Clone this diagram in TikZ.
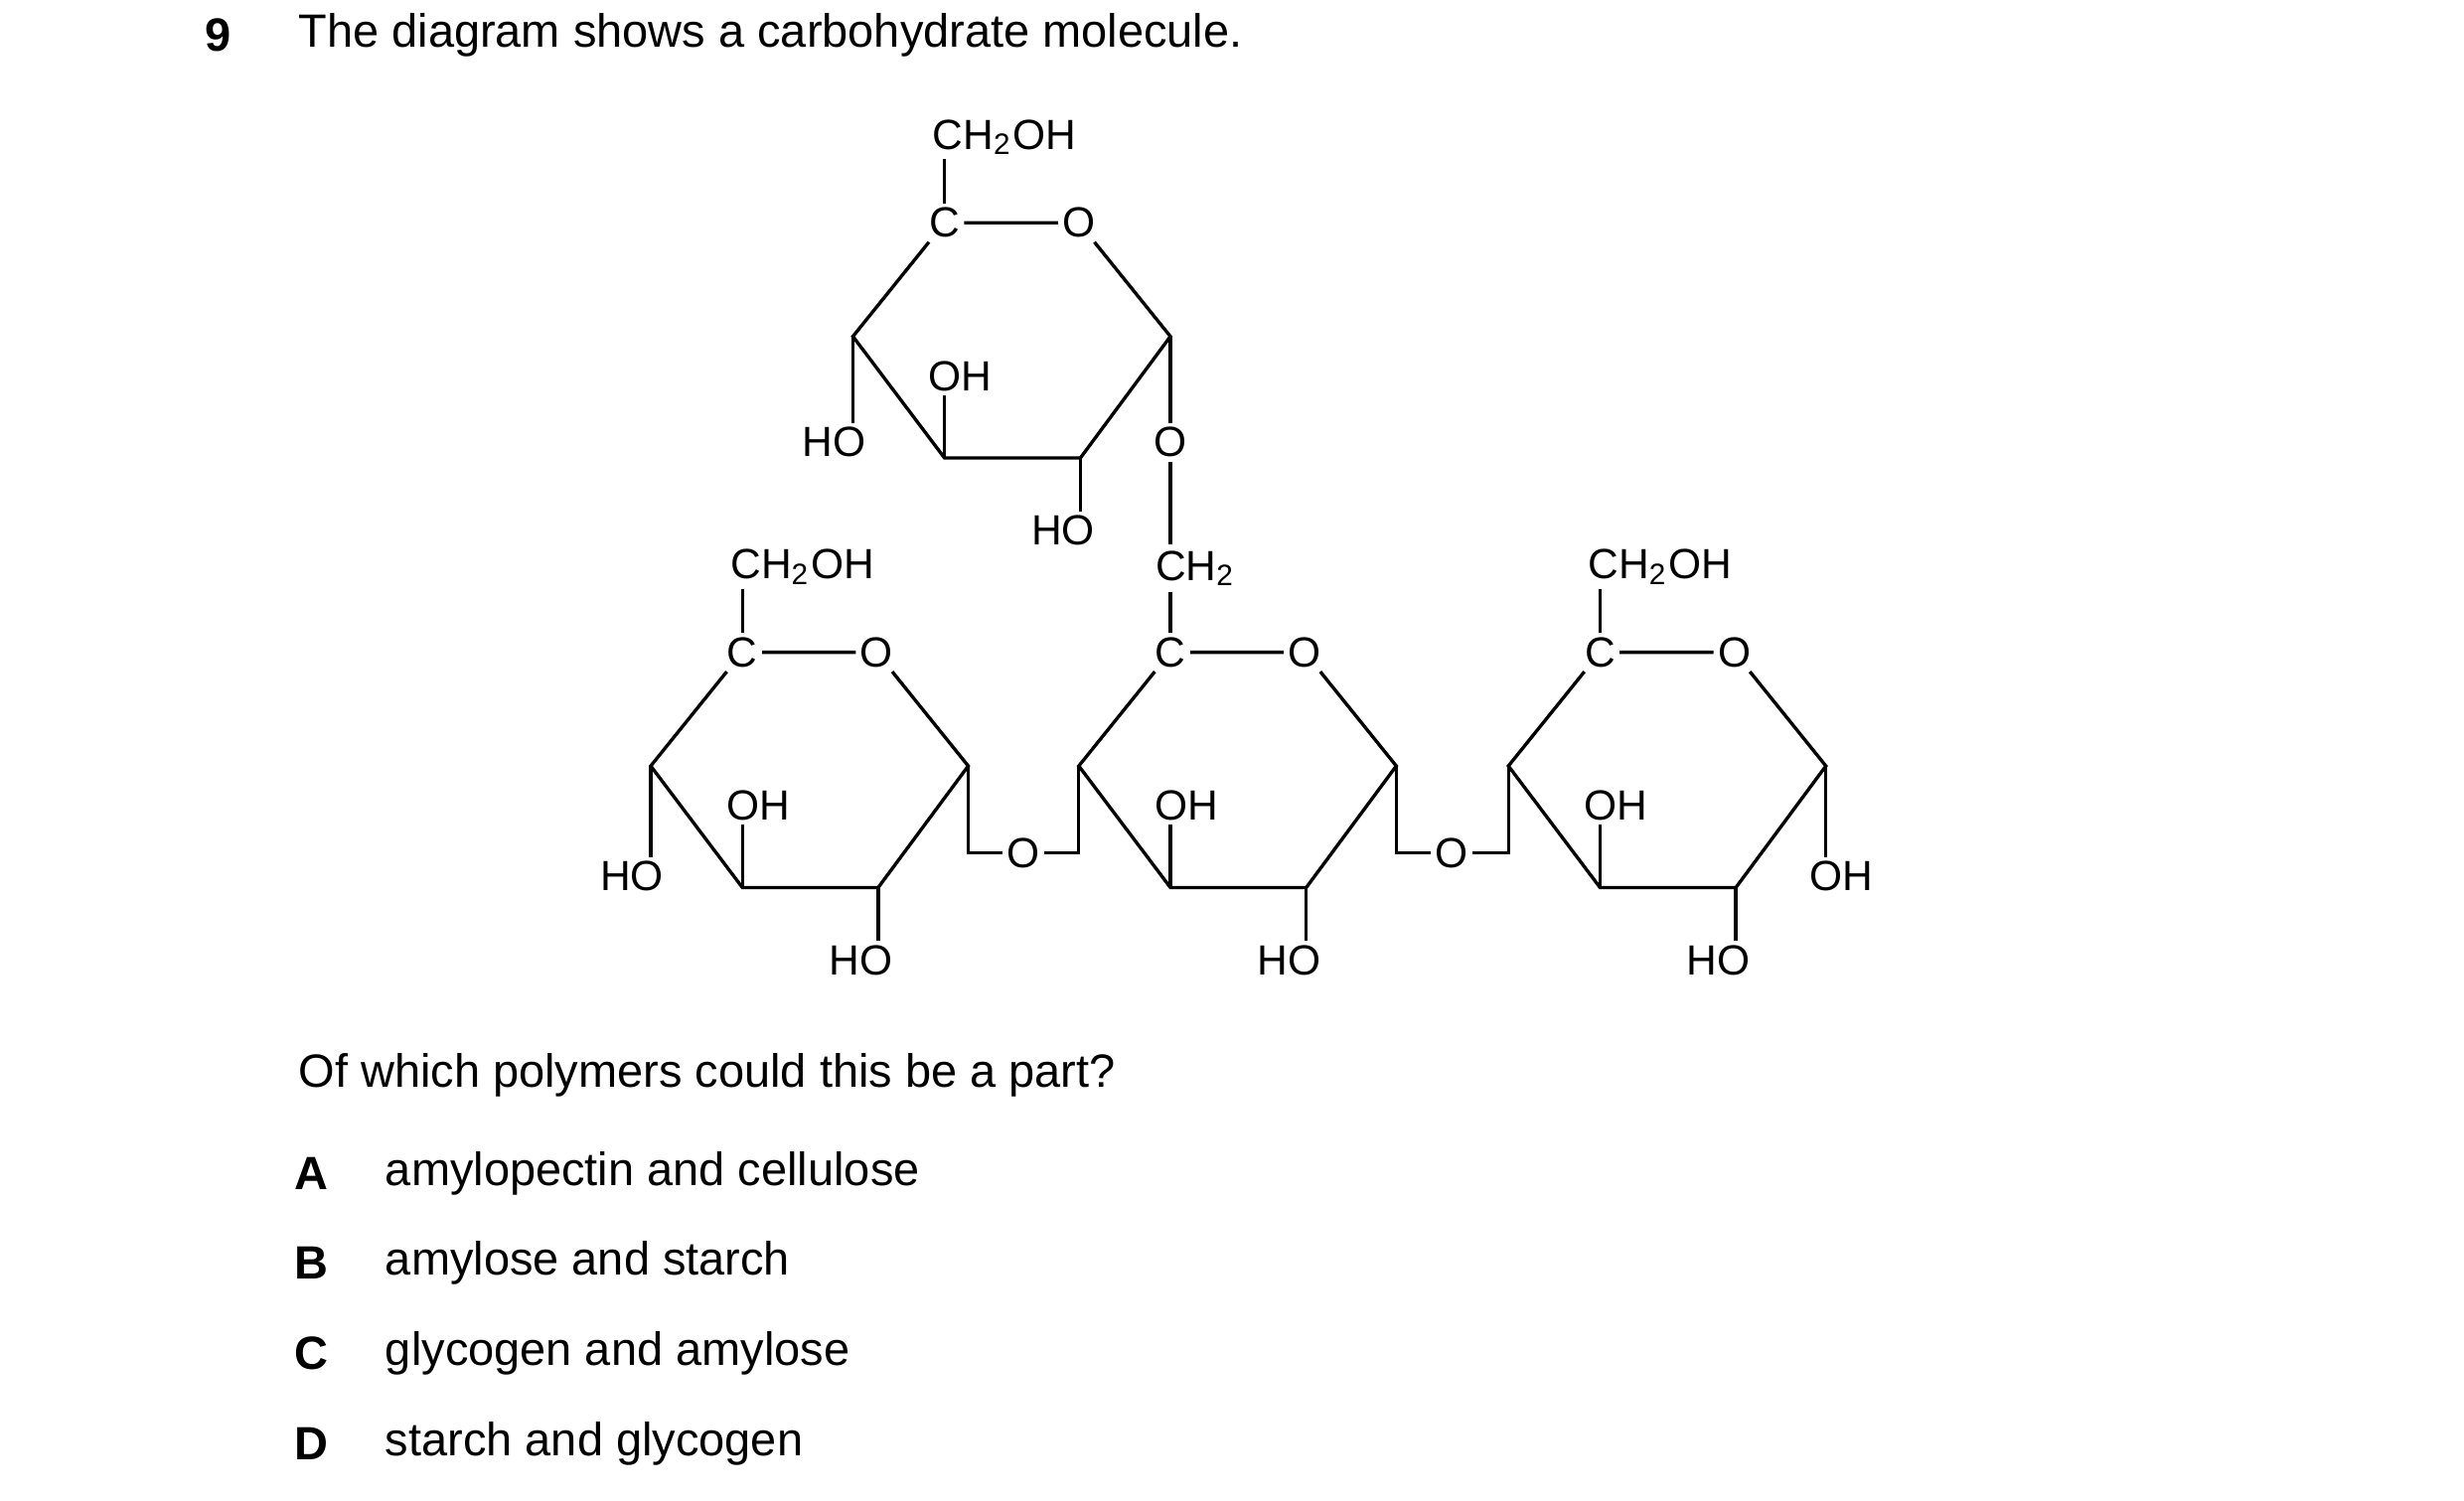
\documentclass[tikz,border=0pt]{standalone}
\usepackage{fontspec}
\setmainfont{Liberation Sans}
\usetikzlibrary{positioning}

\begin{document}
\begin{tikzpicture}[x=0.01cm,y=-0.01cm,line width=0.6pt]
    \tikzstyle{atom}=[inner sep=0.5pt, font=\fontsize{7.6}{9}\selectfont]
    \tikzstyle{grp}=[inner sep=0.5pt, font=\fontsize{7.6}{9}\selectfont]
    \tikzstyle{txt}=[anchor=west, inner sep=0pt, font=\fontsize{8.4}{10}\selectfont]
    \tikzstyle{key}=[inner sep=0pt, font=\fontsize{8.4}{10}\selectfont\bfseries]
    \useasboundingbox (0,0) rectangle (1560,950);

    % question
    \node[key] (num) at (138,22) {9};
    \node[txt] (q1) at (188,22) {The diagram shows a carbohydrate molecule.};

    % rings
    \foreach \r/\x/\y in {t/598/141, l/470/413, m/741/413, r/1013/413} {
      \begin{scope}[shift={(\x,\y)}]
        \node[atom] (\r C) at (0,0) {C};
        \node[atom] (\r O) at (85,0) {O};
        \coordinate (\r 1) at (143,72);
        \coordinate (\r 2) at (86,149);
        \coordinate (\r 3) at (0,149);
        \coordinate (\r 4) at (-58,72);
        \node[grp] (\r OH) at (10,97) {OH};
        \node[grp] (\r HO) at (75,195) {HO};
      \end{scope}
      \draw (\r C) -- (\r O) (\r O) -- (\r 1) -- (\r 2) -- (\r 3) -- (\r 4) -- (\r C);
      \draw (\r 3) -- (\r 3 |- \r OH.south);
      \draw (\r 2) -- (\r 2 |- \r HO.north);
    }

    % CH2OH groups
    \foreach \r/\x/\y in {t/636/87, l/508/359, r/1051/359} {
      \node[grp] (\r CH) at (\x,\y) {CH\textsubscript{2}OH};
      \draw (\r C) -- (\r C |- \r CH.south);
    }

    % top ring left HO, 1-6 link
    \node[grp] (tHOl) at (528,280) {HO};
    \draw (t4) -- (t4 |- tHOl.north);
    \node[atom] (tO6) at (741,280) {O};
    \node[grp] (mCH) at (757,360) {CH\textsubscript{2}};
    \draw (t1) -- (tO6.north);
    \draw (tO6.south) -- (741,345);
    \draw (741,375) -- (mC.north);

    % left ring HO, right ring OH
    \node[grp] (lHOl) at (400,555) {HO};
    \draw (l4) -- (l4 |- lHOl.north);
    \node[grp] (rOHr) at (1166,555) {OH};
    \draw (r1) -- (r1 |- rOHr.north);

    % 1-4 links
    \node[atom] (lmO) at (648,540) {O};
    \node[atom] (mrO) at (919,540) {O};
    \draw (l1) -- (l1 |- lmO) -- (lmO) -- (m4 |- lmO) -- (m4);
    \draw (m1) -- (m1 |- mrO) -- (mrO) -- (r4 |- mrO) -- (r4);

    % answers
    \node[txt] (q2) at (188,681) {Of which polymers could this be a part?};
    \foreach \k/\t/\y in {A/amylopectin and cellulose/743, B/amylose and starch/800,
                          C/glycogen and amylose/857, D/starch and glycogen/914} {
      \node[key] (k\k) at (197,\y) {\k};
      \node[txt] (a\k) at (243,\y) {\t};
    }
\end{tikzpicture}
\end{document}
